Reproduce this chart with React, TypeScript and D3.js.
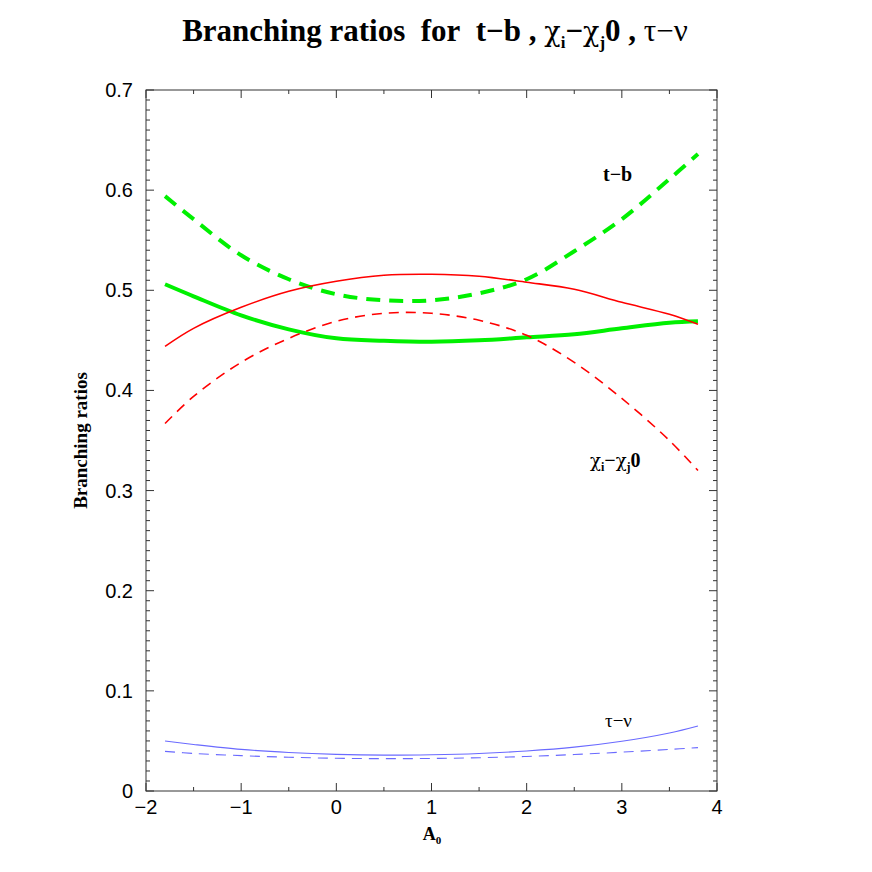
import React from "react";
import * as d3 from "d3";

const xs = [-1.8, -1.5, -1.0, -0.5, 0, 0.5, 1.0, 1.5, 2.0, 2.5, 3.0, 3.5, 3.8];
const greenDashed = [0.594, 0.571, 0.535, 0.511, 0.496, 0.49, 0.49, 0.497, 0.511, 0.539, 0.571, 0.611, 0.636];
const greenSolid = [0.506, 0.494, 0.475, 0.461, 0.452, 0.4495, 0.4485, 0.45, 0.453, 0.456, 0.462, 0.4675, 0.469];
const redSolid = [0.444, 0.462, 0.483, 0.499, 0.509, 0.515, 0.516, 0.514, 0.508, 0.501, 0.488, 0.476, 0.466];
const redDashed = [0.367, 0.394, 0.428, 0.452, 0.469, 0.477, 0.477, 0.47, 0.455, 0.428, 0.392, 0.35, 0.32];
const blueSolid = [0.0499, 0.0465, 0.0416, 0.0385, 0.0366, 0.0358, 0.0362, 0.0375, 0.04, 0.0438, 0.0497, 0.058, 0.065];
const blueDashed = [0.0396, 0.0375, 0.0353, 0.0337, 0.0327, 0.0323, 0.0325, 0.0332, 0.0345, 0.0364, 0.0388, 0.0415, 0.0433];

const xTicks = [-2, -1, 0, 1, 2, 3, 4];
const xMinor = d3.range(-2, 4.001, 0.5);
const yTicks = [0, 0.1, 0.2, 0.3, 0.4, 0.5, 0.6, 0.7];
const yMinor = d3.range(0, 0.7001, 0.01);

const L = 146, R = 717, T = 90, B = 791;

export default function App() {
  const x = d3.scaleLinear().domain([-2, 4]).range([L, R]);
  const y = d3.scaleLinear().domain([0, 0.7]).range([B, T]);
  const line = (vals: number[]) =>
    d3.line<number>().x((_, i) => x(xs[i])).y((v) => y(v)).curve(d3.curveCatmullRom.alpha(0.5))(vals) || "";

  const series = [
    { v: greenDashed, c: "#00f000", w: 4, dash: "14,9" },
    { v: greenSolid, c: "#00f000", w: 4, dash: "" },
    { v: redSolid, c: "#ff0000", w: 1.6, dash: "" },
    { v: redDashed, c: "#ff0000", w: 1.6, dash: "10,7" },
    { v: blueSolid, c: "#6a6aff", w: 1.1, dash: "" },
    { v: blueDashed, c: "#6a6aff", w: 1.1, dash: "10,7" },
  ];

  const serif = "'Liberation Serif', 'Times New Roman', serif";
  const greek = "'DejaVu Serif', 'Liberation Serif', serif";
  const sans = "'Liberation Sans', Arial, Helvetica, sans-serif";
  const axisColor = "#333";

  return (
    <svg width={872} height={872} style={{ display: "block", position: "absolute", left: 0, top: 0 }}>
      <rect x={0} y={0} width={872} height={872} fill="#fff" />
      <text x={435} y={41} textAnchor="middle" fontFamily={serif} fontWeight="bold" fontSize={31}>
        Branching ratios{"\u00a0\u00a0"}for{"\u00a0\u00a0"}t−b , <tspan fontWeight="normal" fontFamily={greek} fontSize={27}>χ</tspan>
        <tspan fontSize={17} dy={7}>i</tspan>
        <tspan dy={-7}>−</tspan>
        <tspan fontWeight="normal" fontFamily={greek} fontSize={27}>χ</tspan>
        <tspan fontSize={17} dy={7}>j</tspan>
        <tspan dy={-7}>0 , </tspan>
        <tspan fontWeight="normal">τ−ν</tspan>
      </text>

      {series.map((s, i) => (
        <path key={i} d={line(s.v)} fill="none" stroke={s.c} strokeWidth={s.w} strokeDasharray={s.dash || undefined} />
      ))}

      <rect x={L} y={T} width={R - L} height={B - T} fill="none" stroke={axisColor} strokeWidth={1} />

      {yMinor.map((v, i) => {
        const major = i % 10 === 0;
        const len = major ? 8 : 4;
        return (
          <g key={"ym" + i}>
            <line x1={L} x2={L + len} y1={y(v)} y2={y(v)} stroke={axisColor} strokeWidth={1} />
            <line x1={R} x2={R - len} y1={y(v)} y2={y(v)} stroke={axisColor} strokeWidth={1} />
          </g>
        );
      })}
      {xMinor.map((v, i) => {
        const major = i % 2 === 0;
        const len = major ? 8 : 4;
        return (
          <g key={"xm" + i}>
            <line x1={x(v)} x2={x(v)} y1={B} y2={B - len} stroke={axisColor} strokeWidth={1} />
            <line x1={x(v)} x2={x(v)} y1={T} y2={T + len} stroke={axisColor} strokeWidth={1} />
          </g>
        );
      })}

      {yTicks.map((v) => (
        <text key={"yl" + v} x={133} y={y(v) + 7} textAnchor="end" fontFamily={sans} fontSize={20}>
          {v === 0 ? "0" : v.toFixed(1)}
        </text>
      ))}
      {xTicks.map((v) => (
        <text key={"xl" + v} x={x(v)} y={814} textAnchor="middle" fontFamily={sans} fontSize={20}>
          {v < 0 ? "−" + Math.abs(v) : String(v)}
        </text>
      ))}

      <text x={432} y={840} textAnchor="middle" fontFamily={serif} fontWeight="bold" fontSize={18}>
        A<tspan fontSize={11} dy={4}>0</tspan>
      </text>
      <text transform={`translate(87,${(T + B) / 2}) rotate(-90)`} textAnchor="middle" fontFamily={serif} fontWeight="bold" fontSize={19}>
        Branching ratios
      </text>

      <text x={603} y={181} fontFamily={serif} fontWeight="bold" fontSize={20}>t−b</text>
      <text x={590} y={467} fontFamily={serif} fontWeight="bold" fontSize={20}>
        <tspan fontWeight="normal" fontFamily={greek} fontSize={18}>χ</tspan>
        <tspan fontSize={12} dy={4}>i</tspan>
        <tspan dy={-4}>−</tspan>
        <tspan fontWeight="normal" fontFamily={greek} fontSize={18}>χ</tspan>
        <tspan fontSize={12} dy={4}>j</tspan>
        <tspan dy={-4}>0</tspan>
      </text>
      <text x={605} y={727} fontFamily={serif} fontSize={19}>τ−ν</text>
    </svg>
  );
}
